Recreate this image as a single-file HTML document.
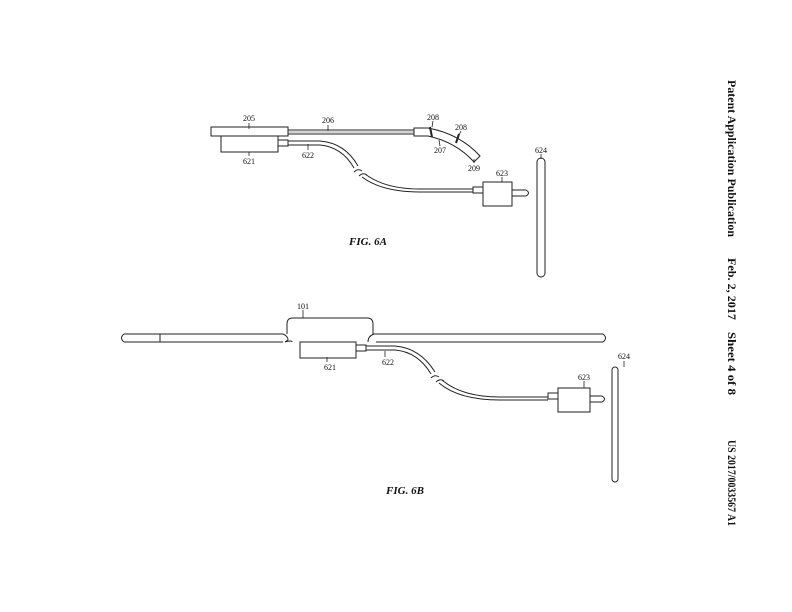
<!DOCTYPE html>
<html><head><meta charset="utf-8"><style>
html,body{margin:0;padding:0;background:#fff}
svg{display:block}
text{font-family:"Liberation Serif",serif;fill:#111}
</style></head><body>
<svg width="792" height="612" viewBox="0 0 792 612" xmlns="http://www.w3.org/2000/svg">
<g fill="none" stroke="#222" stroke-width="1">
<!-- FIG 6A -->
<rect x="211" y="127" width="77" height="9"/>
<rect x="221" y="136" width="57" height="16"/>
<rect x="278" y="140" width="10" height="6"/>
<line x1="288" y1="130" x2="414" y2="130"/>
<line x1="288" y1="134" x2="414" y2="134"/>
<line x1="288" y1="132" x2="414" y2="132" stroke-width="0.4"/>
<path d="M414,128 L428,128 Q460,134 480,156 L474,162 Q456,142 428,136 L414,136 Z"/>
<path d="M430,127 l2,10 M459,134 l-3,9" stroke-width="2"/>
<path d="M288,141 L320,141 Q345,143 358,166"/>
<path d="M288,145 L320,145 Q342,147 354,168"/>
<path d="M365,174 Q385,189 420,189 L473,189"/>
<path d="M362,177 Q382,192 420,192 L473,192"/>
<path d="M354,172 q4,-4 8,-1 M359,176 q4,-4 8,-1"/>
<rect x="473" y="187" width="10" height="6"/>
<rect x="483" y="182" width="29" height="24"/>
<path d="M512,190 L526,190 Q531,193 526,196 L512,196"/>
<rect x="537" y="158" width="8" height="119" rx="4"/>
<!-- FIG 6B -->
<path d="M124,334 L283,334 M124,342 L283,342 M124,334 Q119,338 124,342 M160,334 L160,342"/>
<path d="M283,334 Q288,336 288,340 L285,342"/>
<path d="M287,334 L287,324 Q287,318 293,318 L367,318 Q373,318 373,324 L373,334"/>
<path d="M285,342 Q292,340 292,342 M368,342 Q368,336 374,334"/>
<path d="M374,334 L603,334 Q608,338 603,342 L376,342"/>
<rect x="300" y="342" width="56" height="16"/>
<rect x="356" y="345" width="10" height="6"/>
<path d="M366,346 L395,346 Q420,348 435,372"/>
<path d="M366,350 L395,350 Q418,352 431,374"/>
<path d="M442,380 Q462,397 500,397 L548,397"/>
<path d="M439,383 Q459,400 500,400 L548,400"/>
<path d="M431,378 q4,-4 8,-1 M436,382 q4,-4 8,-1"/>
<rect x="548" y="393" width="10" height="6"/>
<rect x="558" y="388" width="32" height="24"/>
<path d="M590,396 L602,396 Q607,399 602,402 L590,402"/>
<rect x="612" y="367" width="6" height="115" rx="3"/>
<!-- leaders -->
<path d="M249,123 l0,6 M328,125 l0,6 M433,121 l-1,6 M461,131 l-2,4 M440,146 l-1,-6 M474,163 l0,-4 M249,156 l0,-4 M308,150 l0,-6 M502,177 l0,5 M541,154 l0,5 M303,310 l0,8 M327,362 l0,-5 M385,357 l0,-6 M584,381 l0,7 M624,361 l0,6" stroke-width="0.8"/>
</g>
<g font-size="8" text-anchor="middle">
<text x="249" y="121">205</text><text x="328" y="123">206</text>
<text x="433" y="120">208</text><text x="461" y="130">208</text>
<text x="440" y="153">207</text><text x="474" y="171">209</text>
<text x="249" y="164">621</text><text x="308" y="158">622</text>
<text x="502" y="176">623</text><text x="541" y="153">624</text>
<text x="303" y="309">101</text><text x="330" y="370">621</text>
<text x="388" y="365">622</text><text x="584" y="380">623</text>
<text x="624" y="359">624</text>
</g>
<text x="368" y="245" font-size="11" font-weight="bold" font-style="italic" text-anchor="middle">FIG. 6A</text>
<text x="405" y="494" font-size="11" font-weight="bold" font-style="italic" text-anchor="middle">FIG. 6B</text>
<g font-size="12" font-weight="bold" transform="translate(728,80) rotate(90)">
<text x="0" y="0" textLength="157" lengthAdjust="spacingAndGlyphs">Patent Application Publication</text>
<text x="178" y="0" textLength="62" lengthAdjust="spacingAndGlyphs">Feb. 2, 2017</text>
<text x="252" y="0" textLength="63" lengthAdjust="spacingAndGlyphs">Sheet 4 of 8</text>
<text x="360" y="0" textLength="86" lengthAdjust="spacingAndGlyphs">US 2017/0033567 A1</text>
</g>
</svg>
</body></html>
